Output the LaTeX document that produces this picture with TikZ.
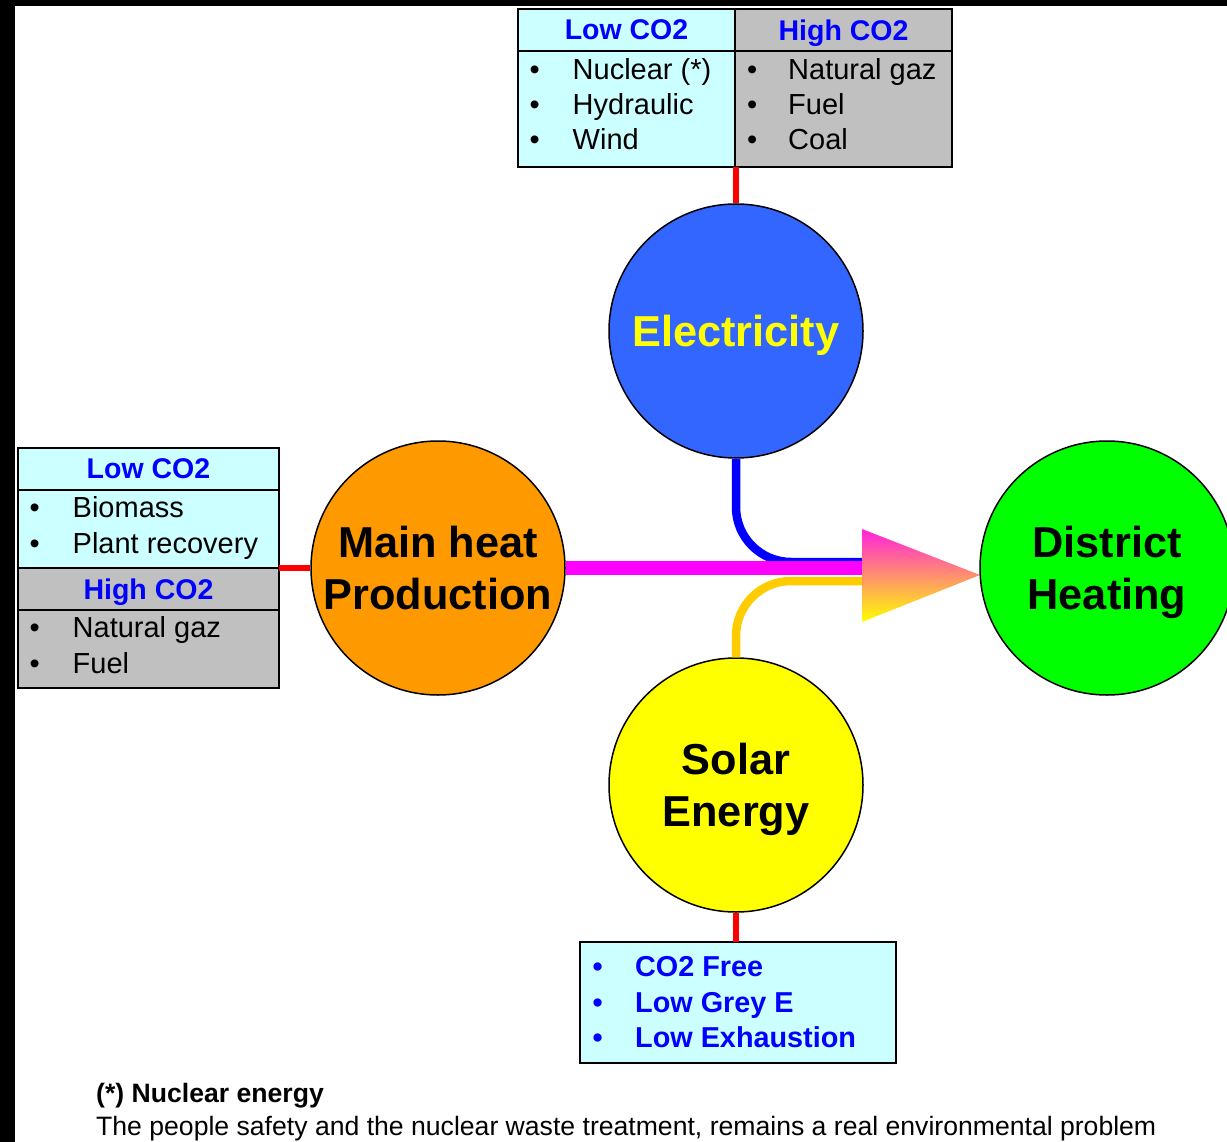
\documentclass[tikz,border=0pt]{standalone}
\usepackage{fontspec}
\setmainfont{Liberation Sans}
\definecolor{lowcyan}{RGB}{204,255,255}
\definecolor{highgrey}{RGB}{192,192,192}
\definecolor{hdrblue}{RGB}{0,0,255}
\definecolor{elecblue}{RGB}{51,102,255}
\definecolor{heatorange}{RGB}{255,153,0}
\definecolor{dhgreen}{RGB}{0,255,0}
\definecolor{solaryellow}{RGB}{255,255,0}
\definecolor{linkred}{RGB}{255,0,0}
\definecolor{linkmag}{RGB}{255,0,255}
\definecolor{linkblue}{RGB}{0,0,255}
\definecolor{linkgold}{RGB}{255,204,0}
\definecolor{arrowtop}{RGB}{255,34,221}
\newcommand{\myitem}[2]{\makebox[0pt]{•}\hspace{#1pt}#2}
\tikzset{
  cell/.style={draw=black, line width=1.5pt, anchor=north west, inner sep=0pt, outer sep=0pt},
  lowfill/.style={fill=lowcyan},
  highfill/.style={fill=highgrey},
  hdr/.style={font=\bfseries\fontsize{28.5}{34}\selectfont, text=hdrblue, text depth=0pt},
  item/.style={anchor=base west, inner sep=0pt, font=\fontsize{29}{35}\selectfont},
  bitem/.style={anchor=base west, inner sep=0pt, font=\bfseries\fontsize{28.8}{35}\selectfont, text=hdrblue},
  note/.style={anchor=base west, inner sep=0pt, font=\fontsize{26.6}{32}\selectfont},
  bubble/.style={circle, draw=black, line width=1.5pt, minimum size=254pt, inner sep=0pt, align=center,
    font=\bfseries\fontsize{43.3}{52}\selectfont, text depth=0pt},
  redlink/.style={draw=linkred, line width=6.5pt},
  maglink/.style={draw=linkmag, line width=14pt},
  bluelink/.style={draw=linkblue, line width=8.5pt, rounded corners=55pt},
  goldlink/.style={draw=linkgold, line width=8.5pt, rounded corners=55pt},
}
\begin{document}
\begin{tikzpicture}[x=1pt, y=-1pt]
\useasboundingbox (0,0) rectangle (1227,1142);
\clip (0,0) rectangle (1227,1142);
% black frame bands
\fill[black] (0,0) rectangle (1227,6);
\fill[black] (0,0) rectangle (15,1142);

% top table
\node[cell, lowfill, hdr, minimum width=217pt, minimum height=42pt] (tl-h) at (518,9) {Low CO2};
\node[cell, highfill, hdr, minimum width=217pt, minimum height=42pt] (tr-h) at (735,9) {High CO2};
\node[cell, lowfill, minimum width=217pt, minimum height=116pt] (tl-b) at (518,51) {};
\node[cell, highfill, minimum width=217pt, minimum height=116pt] (tr-b) at (735,51) {};
\node[item] (tl-1) at (534.5,80) {\myitem{38}{Nuclear (*)}};
\node[item] (tl-2) at (534.5,115) {\myitem{38}{Hydraulic}};
\node[item] (tl-3) at (534.5,150) {\myitem{38}{Wind}};
\node[item] (tr-1) at (752,80) {\myitem{36}{Natural gaz}};
\node[item] (tr-2) at (752,115) {\myitem{36}{Fuel}};
\node[item] (tr-3) at (752,150) {\myitem{36}{Coal}};

% left table
\node[cell, lowfill, hdr, minimum width=261pt, minimum height=42pt] (ll-h) at (18,448) {Low CO2};
\node[cell, lowfill, minimum width=261pt, minimum height=78pt] (ll-b) at (18,490) {};
\node[cell, highfill, hdr, minimum width=261pt, minimum height=42pt] (lh-h) at (18,568) {High CO2};
\node[cell, highfill, minimum width=261pt, minimum height=78pt] (lh-b) at (18,610) {};
\node[item] (ll-1) at (34.5,517) {\myitem{38}{Biomass}};
\node[item] (ll-2) at (34.5,553) {\myitem{38}{Plant recovery}};
\node[item] (lh-1) at (34.5,637) {\myitem{38}{Natural gaz}};
\node[item] (lh-2) at (34.5,673) {\myitem{38}{Fuel}};

% bottom box
\node[cell, lowfill, minimum width=316pt, minimum height=121pt] (bt) at (580,942) {};
\node[bitem] (bt-1) at (597.5,976) {\myitem{37.5}{CO2 Free}};
\node[bitem] (bt-2) at (597.5,1012) {\myitem{37.5}{Low Grey E}};
\node[bitem] (bt-3) at (597.5,1047) {\myitem{37.5}{Low Exhaustion}};

% bubbles
\node[bubble, fill=elecblue, text=solaryellow] (elec) at (736,331) {Electricity};
\node[bubble, fill=heatorange] (heat) at (438,568) {Main heat\\Production};
\node[bubble, fill=dhgreen] (dh) at (1107,568) {District\\Heating};
\node[bubble, fill=solaryellow] (solar) at (736,785) {Solar\\Energy};

% arrow coordinates
\coordinate (abase-blue) at (862,562);
\coordinate (abase-mag) at (862,569);
\coordinate (abase-gold) at (862,581);
\coordinate (atip) at (980,575);

% connectors
\draw[redlink] (elec.north) -- (elec.north |- tl-b.south);
\draw[redlink] (heat.west) -- (heat.west -| ll-b.east);
\draw[redlink] (solar.south) -- (solar.south |- bt.north);
\draw[bluelink] (elec.south) |- (abase-blue);
\draw[goldlink] (solar.north) |- (abase-gold);
\draw[maglink] (heat.east) -- (heat.east -| abase-mag);
\shade[top color=arrowtop, bottom color=solaryellow] (862,529) -- (atip) -- (862,622) -- cycle;

% footnote
\node[note, font=\bfseries\fontsize{26.6}{32}\selectfont] (fn-1) at (96,1102) {(*) Nuclear energy};
\node[note] (fn-2) at (96,1135) {The people safety and the nuclear waste treatment, remains a real environmental problem};
\end{tikzpicture}
\end{document}
